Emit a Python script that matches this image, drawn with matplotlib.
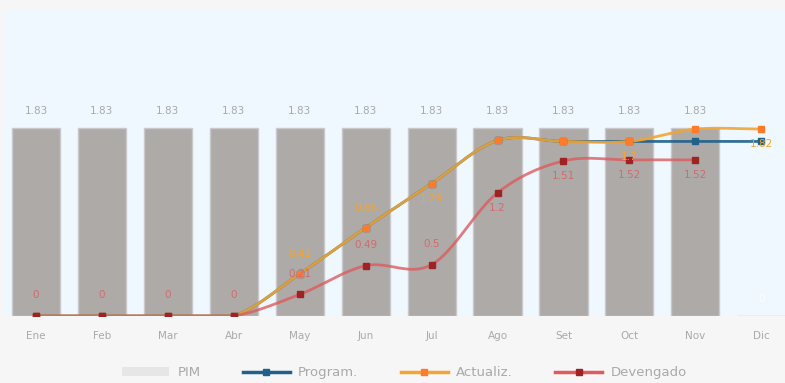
import numpy as np
import matplotlib
matplotlib.use('Agg')
import matplotlib.pyplot as plt
from matplotlib.patches import Patch
from matplotlib.lines import Line2D

meses = ['Ene', 'Feb', 'Mar', 'Abr', 'May', 'Jun', 'Jul', 'Ago', 'Set', 'Oct', 'Nov', 'Dic']
pim = [1.83, 1.83, 1.83, 1.83, 1.83, 1.83, 1.83, 1.83, 1.83, 1.83, 1.83, 0]
program = [0, 0, 0, 0, 0.41, 0.86, 1.29, 1.71, 1.70, 1.70, 1.70, 1.70]
actualiz = [0, 0, 0, 0, 0.41, 0.86, 1.29, 1.71, 1.70, 1.70, 1.82, 1.82]
devengado = [0, 0, 0, 0, 0.21, 0.49, 0.50, 1.20, 1.51, 1.52, 1.52]

# which points carry a value label, and whether it sits above (+) or below (-)
actualiz_labels = {4: ('0.41', 1), 5: ('0.86', 1), 6: ('1.29', -1), 9: ('1.7', -1), 11: ('1.82', -1)}
devengado_labels = {0: ('0', 1), 1: ('0', 1), 2: ('0', 1), 3: ('0', 1), 4: ('0.21', 1),
                    5: ('0.49', 1), 6: ('0.5', 1), 7: ('1.2', -1), 8: ('1.51', -1),
                    9: ('1.52', -1), 10: ('1.52', -1)}

C_BAR = '#aeaaa8'
C_PROG = '#1f6189'
C_ACT = '#f2a533'
C_ACT_MK = '#ff7a2a'
C_DEV = '#dd5c5f'
C_DEV_MK = '#9e2424'
C_TXT = '#a9a9a9'


def smooth(xs, ys, n=24, t=0.5):
    # cardinal spline through the points
    xs = np.asarray(xs, float)
    ys = np.asarray(ys, float)
    px, py = [], []
    for i in range(len(xs) - 1):
        i0, i3 = max(i - 1, 0), min(i + 2, len(xs) - 1)
        m1 = t * (ys[i + 1] - ys[i0]) / max(xs[i + 1] - xs[i0], 1)
        m2 = t * (ys[i3] - ys[i]) / max(xs[i3] - xs[i], 1)
        s = np.linspace(0, 1, n, endpoint=False)
        h00 = 2 * s**3 - 3 * s**2 + 1
        h10 = s**3 - 2 * s**2 + s
        h01 = -2 * s**3 + 3 * s**2
        h11 = s**3 - s**2
        dx = xs[i + 1] - xs[i]
        px.extend(xs[i] + s * dx)
        py.extend(h00 * ys[i] + h10 * dx * m1 * 2 + h01 * ys[i + 1] + h11 * dx * m2 * 2)
    px.append(xs[-1])
    py.append(ys[-1])
    return np.array(px), np.array(py)


fig = plt.figure(figsize=(7.85, 3.83), dpi=100)
fig.patch.set_facecolor('#f6f6f6')
ax = fig.add_axes([3 / 785, 67 / 383, 782 / 785, 306 / 383])
ax.set_facecolor('#eef8fe')

x = np.arange(len(meses))
ax.bar(x, pim, width=0.73, color=C_BAR, edgecolor='#c9c9cc', linewidth=1, zorder=2)
for i, v in enumerate(pim):
    ax.annotate('%.2f' % v if v else '0', (i, v), xytext=(0, 9), textcoords='offset points',
                ha='center', va='bottom', fontsize=7.5,
                color=C_TXT if v else 'white', zorder=6)

for ys, lc, mc in [(program, C_PROG, C_PROG), (actualiz, C_ACT, C_ACT_MK), (devengado, C_DEV, C_DEV_MK)]:
    xx = np.arange(len(ys))
    sx, sy = smooth(xx, ys)
    sy = np.clip(sy, 0, None)
    ax.plot(sx, sy, color=lc, lw=2, alpha=0.9 if lc != C_DEV else 0.8, zorder=3)
    ax.plot(xx, ys, ls='none', marker='s', ms=4, color=mc, zorder=4)

for i, (txt, d) in actualiz_labels.items():
    ax.annotate(txt, (i, actualiz[i]), xytext=(0, 11 * d + 3 * (d > 0)), textcoords='offset points',
                ha='center', va='center', fontsize=7.5, color=C_ACT, zorder=5)
for i, (txt, d) in devengado_labels.items():
    ax.annotate(txt, (i, devengado[i]), xytext=(0, 11 * d + 4 * (d > 0)), textcoords='offset points',
                ha='center', va='center', fontsize=7.5, color='#d36a6e', zorder=5)

ax.set_xlim(-0.5, 11.36)
ax.set_ylim(0, 2.98)
ax.set_yticks([])
ax.set_xticks(x)
ax.set_xticklabels(meses, fontsize=7.5, color=C_TXT)
ax.tick_params(axis='x', length=0, pad=11)
for s in ax.spines.values():
    s.set_visible(False)

handles = [
    Patch(facecolor='#e6e6e6', edgecolor='none', label='PIM'),
    Line2D([], [], color=C_PROG, lw=2.5, marker='s', ms=5, label='Program.'),
    Line2D([], [], color=C_ACT, lw=2.5, marker='s', ms=5, mfc=C_ACT_MK, mec=C_ACT_MK, label='Actualiz.'),
    Line2D([], [], color=C_DEV, lw=2.5, marker='s', ms=5, mfc=C_DEV_MK, mec=C_DEV_MK, label='Devengado'),
]
leg = fig.legend(handles=handles, loc='center', bbox_to_anchor=(0.515, 0.027), ncol=4,
                 frameon=False, fontsize=9.5, handlelength=3.6, handletextpad=0.6, columnspacing=3.2)
for t in leg.get_texts():
    t.set_color(C_TXT)

fig.savefig('out.png', dpi=100, facecolor=fig.get_facecolor())
